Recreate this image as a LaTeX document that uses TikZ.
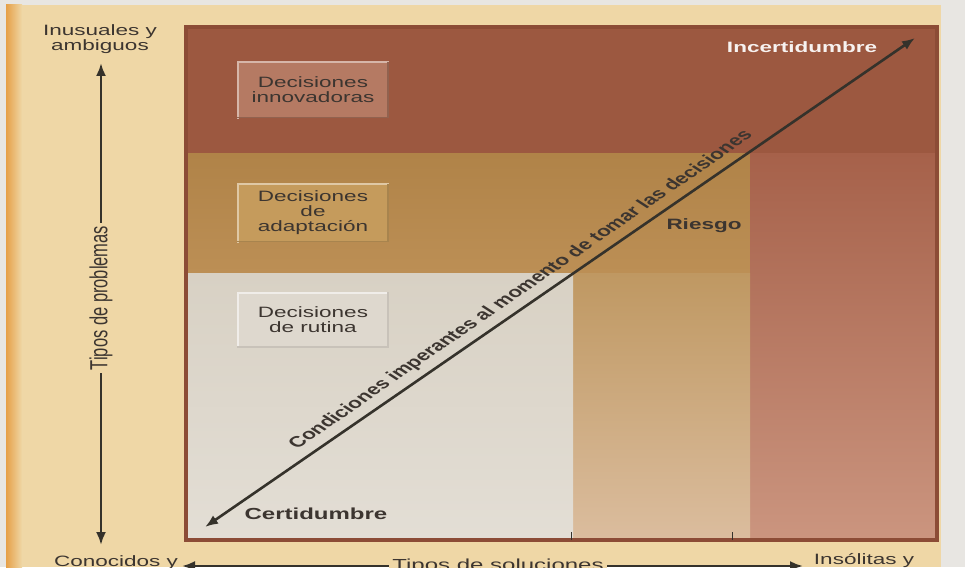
\documentclass[tikz,border=0pt]{standalone}
\usepackage{fontspec}
\setmainfont{Liberation Sans}
\newfontfamily\wide[FakeStretch=1.5]{Liberation Sans}
\usetikzlibrary{arrows.meta,calc}
\definecolor{bgwhite}{HTML}{E8E6E2}
\definecolor{beige}{HTML}{EFD7A6}
\definecolor{orng}{HTML}{E6A047}
\definecolor{topband}{HTML}{9C5840}
\definecolor{midtop}{HTML}{B08348}
\definecolor{midbot}{HTML}{BC8F55}
\definecolor{righttop}{HTML}{A6614A}
\definecolor{rightbot}{HTML}{CB957F}
\definecolor{bmtop}{HTML}{BF9862}
\definecolor{bmbot}{HTML}{DBBD9E}
\definecolor{bltop}{HTML}{D8D1C4}
\definecolor{blbot}{HTML}{E3DED5}
\definecolor{frame}{HTML}{8C4C36}
\definecolor{ink}{HTML}{3C3530}
\definecolor{arr}{HTML}{35322B}
\definecolor{innovfill}{HTML}{B57A63}
\definecolor{adaptfill}{HTML}{C59B5C}
\definecolor{rutfill}{HTML}{DED8CE}
\begin{document}
\begin{tikzpicture}[x=1pt,y=-1pt,
  lbl/.style={font=\wide\fontsize{15}{15}\selectfont, text=ink, align=center, inner sep=0pt},
  blbl/.style={font=\wide\fontsize{15}{15}\selectfont\bfseries, text=ink, inner sep=0pt},
  decbox/.style={minimum width=150, minimum height=55, inner sep=0pt},
  arrline/.style={draw=arr, line width=2.6pt, {Latex[length=13,width=10]}-{Latex[length=13,width=10]}},
  axtext/.style={font=\fontsize{16}{16}\selectfont, text=ink, fill=beige, inner sep=3pt},
  hilite/.style={line width=2pt, line cap=rect},
  shadowline/.style={line width=1.5pt, line cap=rect}
]
\useasboundingbox (0,0) rectangle (965,567);
% background
\fill[bgwhite] (0,0) rectangle (965,567);
\fill[beige] (6,5) rectangle (941,567);
\shade[left color=orng, right color=beige] (6,5) rectangle (22,567);
% regions
\fill[topband] (186,27) rectangle (937,153);
\shade[top color=midtop, bottom color=midbot] (186,153) rectangle (750,273);
\shade[top color=righttop, bottom color=rightbot] (750,153) rectangle (937,540);
\shade[top color=bmtop, bottom color=bmbot] (573,273) rectangle (750,540);
\shade[top color=bltop, bottom color=blbot] (186,273) rectangle (573,540);
\draw[frame, line width=3.5pt] (186,27) rectangle (937,540);
\draw[arr, line width=0.8pt] (571,540) -- (571,532);
\draw[arr, line width=0.8pt] (732,540) -- (732,532);
% decision boxes
\node[decbox, fill=innovfill] (innov) at (313,90) {};
\draw[hilite, innovfill!55!white] (innov.south west) -- (innov.north west) -- (innov.north east);
\draw[shadowline, innovfill!80!black] (innov.north east) -- (innov.south east) -- (innov.south west);
\node[lbl] (innovt) at (innov.center) {Decisiones\\innovadoras};
\node[decbox, minimum height=57, fill=adaptfill] (adapt) at (313,213) {};
\draw[hilite, adaptfill!55!white] (adapt.south west) -- (adapt.north west) -- (adapt.north east);
\draw[shadowline, adaptfill!85!black] (adapt.north east) -- (adapt.south east) -- (adapt.south west);
\node[lbl] (adaptt) at (adapt.center) {Decisiones\\de\\adaptación};
\node[decbox, minimum height=54, fill=rutfill] (rutina) at (313,320) {};
\draw[hilite, rutfill!45!white] (rutina.south west) -- (rutina.north west) -- (rutina.north east);
\draw[shadowline, rutfill!90!black] (rutina.north east) -- (rutina.south east) -- (rutina.south west);
\node[lbl] (rutinat) at (rutina.center) {Decisiones\\de rutina};
% state labels
\node[blbl, text=white!92!topband] (incert) at (802,47) {Incertidumbre};
\node[blbl] (riesgo) at (704,226) {Riesgo};
\node[blbl, font=\wide\fontsize{16}{16}\selectfont\bfseries] (cert) at (316,514) {Certidumbre};
% diagonal arrow
\coordinate (dlo) at (205,527);
\coordinate (dhi) at (915,38);
\draw[arrline] (dlo) -- (dhi);
\coordinate (dmid) at ($(dlo)!0.457!(dhi)$);
\node[font=\fontsize{15}{15}\selectfont\bfseries, text=ink, inner sep=0pt, xscale=1.5, rotate=45.9] (cond) at ($(dmid)+(-8.4,-13.5)$) {Condiciones imperantes al momento de tomar las decisiones};
% vertical axis
\coordinate (vtop) at (101,63);
\coordinate (vbot) at (101,545);
\draw[arrline, line width=2.4pt] (vtop) -- (vbot);
\node[axtext, font=\fontsize{16.5}{16.5}\selectfont, xscale=1.5, rotate=90] (tprob) at (101,298) {Tipos de problemas};
\node[lbl] (inus) at (100,39) {Inusuales y\\ambiguos};
% horizontal axis
\coordinate (hleft) at (182,566);
\coordinate (hright) at (803,566);
\draw[arrline, line width=2.4pt] (hleft) -- (hright);
\node[axtext, font=\wide\fontsize{16}{16}\selectfont, anchor=north] (tsol) at (498,556) {Tipos de soluciones};
\node[lbl, anchor=north] (conoc) at (116,555) {Conocidos y};
\node[lbl, anchor=north] (insol) at (864,553) {Insólitas y};
\end{tikzpicture}
\end{document}
